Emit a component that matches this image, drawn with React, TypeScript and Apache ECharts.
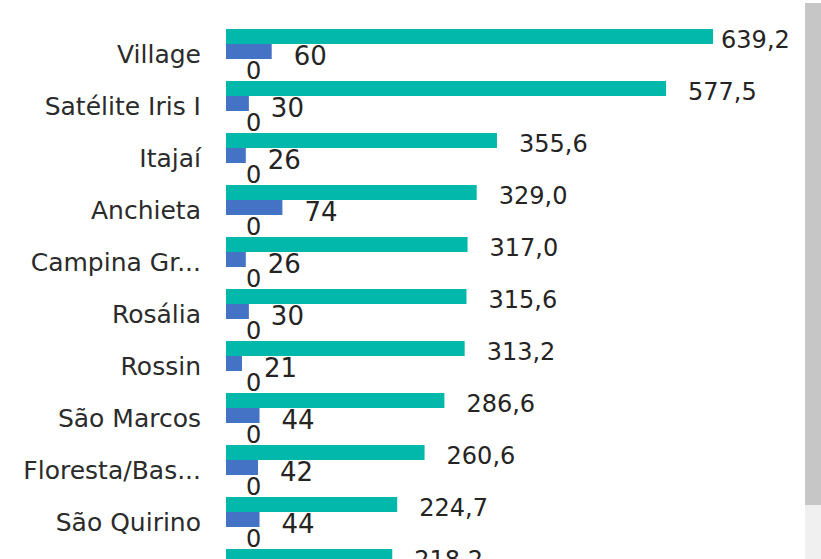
import React, { useEffect, useRef } from "react";
import * as echarts from "echarts";

const categories = [
  "Village",
  "Satélite Iris I",
  "Itajaí",
  "Anchieta",
  "Campina Gr...",
  "Rosália",
  "Rossin",
  "São Marcos",
  "Floresta/Bas...",
  "São Quirino",
  "",
];
const greenValues = [639.2, 577.5, 355.6, 329.0, 317.0, 315.6, 313.2, 286.6, 260.6, 224.7, 218.2];
const blueValues = [60, 30, 26, 74, 26, 30, 21, 44, 42, 44, null];
const zeroValues = [0, 0, 0, 0, 0, 0, 0, 0, 0, 0, null];

const FONT = "DejaVu Sans";

export default function App() {
  const ref = useRef<HTMLDivElement>(null);
  useEffect(() => {
    if (!ref.current) return;
    const chart = echarts.init(ref.current, undefined, { renderer: "svg" });
    chart.setOption({
      animation: false,
      backgroundColor: "#ffffff",
      grid: { left: 226, top: 25.5, right: 61.6, bottom: 22.5, containLabel: false },
      xAxis: {
        type: "value",
        min: 0,
        max: 700,
        show: false,
        splitLine: { show: false },
      },
      yAxis: {
        type: "category",
        inverse: true,
        data: categories,
        axisLine: { show: false },
        axisTick: { show: false },
        axisLabel: {
          margin: 25,
          fontFamily: FONT,
          fontSize: 25,
          color: "#2b2b2b",
          formatter: (v: string) => (v ? "{a|" + v + "}" : ""),
          rich: {
            a: {
              fontFamily: FONT,
              fontSize: 25,
              color: "#2b2b2b",
              padding: [6, 0, 0, 0],
            },
          },
        },
      },
      series: [
        {
          type: "bar",
          name: "green",
          data: greenValues.map((v, i) =>
            i === 0 ? { value: v, label: { distance: 8 } } : v
          ),
          barWidth: 15,
          barGap: "0%",
          itemStyle: { color: "#01B8AA" },
          label: {
            show: true,
            position: "right",
            distance: 22,
            offset: [0, 3],
            fontFamily: FONT,
            fontSize: 24,
            color: "#252423",
            formatter: (p: any) => Number(p.value).toFixed(1).replace(".", ","),
          },
        },
        {
          type: "bar",
          name: "blue",
          data: blueValues,
          barWidth: 15,
          barGap: "0%",
          itemStyle: { color: "#4472C4" },
          label: {
            show: true,
            position: "right",
            distance: 22,
            offset: [0, 4],
            fontFamily: FONT,
            fontSize: 26,
            color: "#252423",
            formatter: (p: any) => String(p.value),
          },
        },
        {
          type: "bar",
          name: "zero",
          data: zeroValues,
          barWidth: 15,
          barGap: "0%",
          itemStyle: { color: "rgba(0,0,0,0)" },
          label: {
            show: true,
            position: "right",
            distance: 20,
            offset: [0, 4],
            fontFamily: FONT,
            fontSize: 24,
            color: "#252423",
            formatter: (p: any) => String(p.value),
          },
        },
      ],
      graphic: [
        { type: "rect", shape: { x: 805, y: 505, width: 16, height: 60 }, style: { fill: "#f0f0f0" } },
        { type: "rect", shape: { x: 805, y: 3, width: 16, height: 502 }, style: { fill: "#c6c6c6" } },
      ],
    });
    return () => chart.dispose();
  }, []);
  return (
    <div
      style={{
        position: "absolute",
        left: 0,
        top: 0,
        width: 821,
        height: 559,
        overflow: "hidden",
        background: "#ffffff",
      }}
    >
      <div ref={ref} style={{ width: 821, height: 620 }} />
    </div>
  );
}
